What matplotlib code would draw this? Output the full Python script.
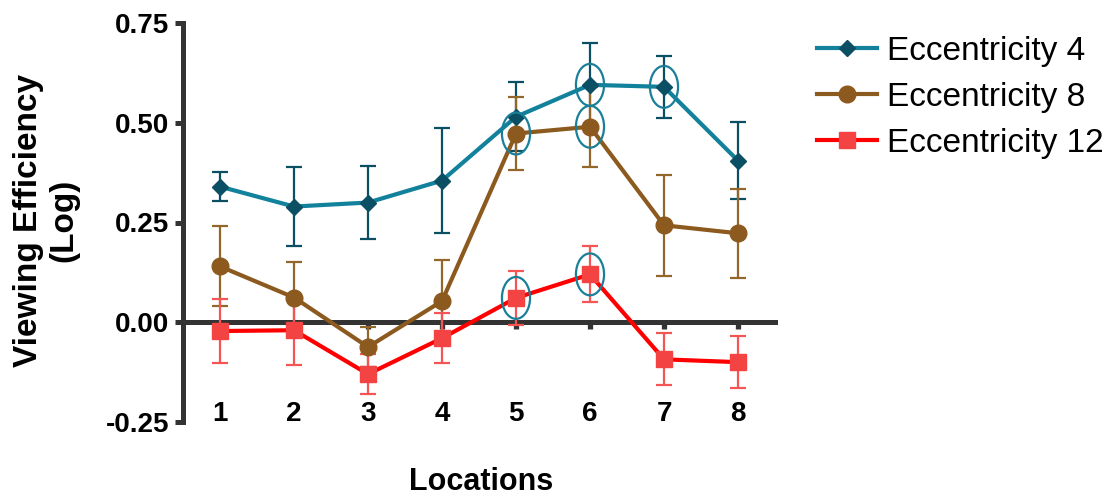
import matplotlib.pyplot as plt
from matplotlib.patches import Ellipse

plt.rcParams['font.family'] = ['Liberation Sans', 'DejaVu Sans']

locations = [1, 2, 3, 4, 5, 6, 7, 8]

ecc4 = [0.34, 0.29, 0.30, 0.355, 0.515, 0.595, 0.59, 0.405]
ecc4_err = [0.037, 0.098, 0.092, 0.132, 0.087, 0.105, 0.077, 0.097]
ecc8 = [0.14, 0.062, -0.062, 0.053, 0.473, 0.49, 0.243, 0.223]
ecc8_err = [0.10, 0.09, 0.05, 0.103, 0.092, 0.10, 0.127, 0.112]
ecc12 = [-0.022, -0.02, -0.13, -0.04, 0.061, 0.12, -0.093, -0.10]
ecc12_err = [0.08, 0.087, 0.05, 0.063, 0.067, 0.07, 0.065, 0.066]

# locations circled in the original figure
ecc4_marked = [6, 7]
ecc8_marked = [5, 6]
ecc12_marked = [5, 6]

series = [
    ('Eccentricity 4', ecc4, ecc4_err, ecc4_marked, 'D', 7.8, '#12819b', '#0a4f63', '#0a4f63'),
    ('Eccentricity 8', ecc8, ecc8_err, ecc8_marked, 'o', 12, '#8c5a1e', '#8c5a1e', '#93662a'),
    ('Eccentricity 12', ecc12, ecc12_err, ecc12_marked, 's', 11.5, '#ff0000', '#f44343', '#f55555'),
]

fig = plt.figure(figsize=(11.09, 4.98), dpi=100)
ax = fig.add_axes([183 / 1109, 76 / 498, 592 / 1109, 399 / 498])

handles = []
for label, vals, errs, marked, mk, ms, lc, mc, ec in series:
    ax.errorbar(locations, vals, yerr=errs, fmt='none', ecolor=ec,
                elinewidth=1.6, capsize=6, capthick=1.6, zorder=3)
    h, = ax.plot(locations, vals, color=lc, lw=3, marker=mk, ms=ms,
                 mfc=mc, mec=mc, label=label, zorder=4)
    handles.append(h)
    for loc in marked:
        ax.add_patch(Ellipse((loc, vals[locations.index(loc)]), 0.38, 0.105,
                             fill=False, ec='#1a7f99', lw=1.6, zorder=5))

ax.set_xlim(0.5, 8.5)
ax.set_ylim(-0.25, 0.75)

for s in ['top', 'right']:
    ax.spines[s].set_visible(False)
ax.spines['left'].set_linewidth(3.6)
ax.spines['left'].set_color('#333333')
ax.spines['bottom'].set_position(('data', 0))
ax.spines['bottom'].set_linewidth(3.6)
ax.spines['bottom'].set_color('#333333')
ax.spines['bottom'].set_zorder(2)

ax.set_yticks([-0.25, 0.0, 0.25, 0.5, 0.75])
ax.set_yticklabels(['-0.25', '0.00', '0.25', '0.50', '0.75'])
ax.set_xticks(locations)
ax.set_xticklabels([str(l) for l in locations])
ax.tick_params(axis='y', direction='out', length=6, width=3.6, color='#333333',
               pad=4, labelsize=20)
ax.tick_params(axis='x', direction='out', length=5, width=3.8, color='#333333',
               pad=52, labelsize=20)
for t in ax.get_xticklabels() + ax.get_yticklabels():
    t.set_fontweight('bold')

fig.text(46 / 1109, 1 - 220 / 498, 'Viewing Efficiency\n(Log)', rotation=90,
         ha='center', va='center', multialignment='center',
         fontsize=24, fontweight='bold')
fig.text(481 / 1109, 1 - 482 / 498, 'Locations', ha='center', va='center',
         fontsize=22, fontweight='bold')

fig.legend(handles=handles, loc='upper left',
           bbox_to_anchor=(817 / 1109, 1 - 36 / 498),
           frameon=False, fontsize=24, borderpad=0, borderaxespad=0,
           handlelength=1.8, handletextpad=0.3, labelspacing=0.45)

fig.savefig('out.png', dpi=100)
